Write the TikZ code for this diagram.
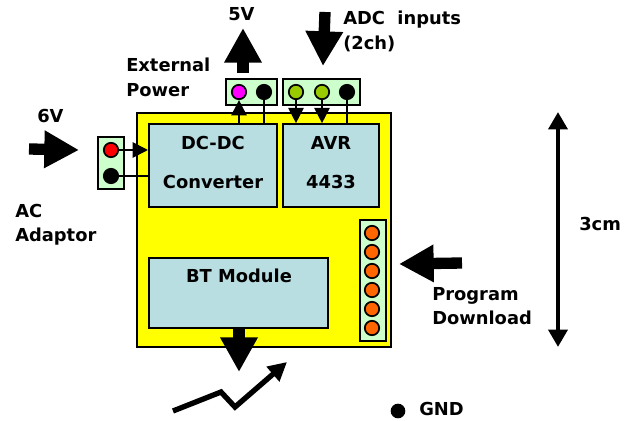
\documentclass[tikz,border=0pt]{standalone}
\usepackage{fontspec}
\setmainfont{DejaVu Sans}
\usetikzlibrary{arrows.meta, positioning, calc}
\definecolor{boardyellow}{HTML}{FFFF00}
\definecolor{blockblue}{HTML}{B8DEE2}
\definecolor{headgreen}{HTML}{CCFFCC}
\definecolor{pinolive}{HTML}{99CC00}
\definecolor{pinorange}{HTML}{FF6600}
\definecolor{pinmagenta}{HTML}{FF00FF}
\definecolor{pinred}{HTML}{FF0000}

\begin{document}
\begin{tikzpicture}[x=0.75pt, y=-0.75pt,
  board/.style={draw=black, line width=1.5pt, fill=boardyellow, inner sep=0pt},
  block/.style={draw=black, line width=1.5pt, fill=blockblue, inner sep=0pt},
  header/.style={draw=black, line width=1.3pt, fill=headgreen, inner sep=0pt},
  pin/.style={circle, draw=black, line width=1.3pt, minimum size=10.8pt, inner sep=0pt},
  label/.style={font=\fontsize{13.4pt}{18pt}\selectfont\bfseries, inner sep=0pt},
  blocktext/.style={font=\fontsize{13.4pt}{18pt}\selectfont\bfseries, inner sep=0pt},
  wire/.style={line width=1.4pt},
  wiretip/.style={line width=1.4pt, -{Triangle[length=11.5pt, width=11.5pt]}},
  bigarrow/.style={line width=8.5pt, -{Triangle[length=26pt, width=26.5pt]}},
  sizearrow/.style={line width=3.4pt, {Triangle[length=13pt, width=14pt]}-{Triangle[length=13pt, width=14pt]}},
]
  \useasboundingbox (0,0) rectangle (629,421);

  % board and blocks
  \node[board, minimum width=190pt, minimum height=176pt] (pcb) at (264,230) {};
  \node[block, minimum width=96pt, minimum height=62pt] (dcdc) at (213,165.5) {};
  \node[block, minimum width=72pt, minimum height=62pt] (avr) at (331,165.5) {};
  \node[block, minimum width=134pt, minimum height=52pt] (bt) at (238.5,293) {};
  \node[blocktext] at (213,143) {DC-DC};
  \node[blocktext] at (213,182) {Converter};
  \node[blocktext] at (331,143) {AVR};
  \node[blocktext] at (331,182) {4433};
  \node[blocktext] at (239,276) {BT Module};

  % headers
  \node[header, minimum width=38pt, minimum height=19.5pt] (exthead) at (251.5,92) {};
  \node[header, minimum width=58pt, minimum height=19.5pt] (adchead) at (321.5,92) {};
  \node[header, minimum width=19.5pt, minimum height=39pt] (achead) at (111,163) {};
  \node[header, minimum width=19.5pt, minimum height=91pt] (proghead) at (373,280.5) {};

  \node[pin, fill=pinmagenta] (extp) at (239,92) {};
  \node[pin, fill=black] (extg) at (264,92) {};
  \node[pin, fill=pinolive] (adca) at (296,92) {};
  \node[pin, fill=pinolive] (adcb) at (322,92) {};
  \node[pin, fill=black] (adcg) at (347,92) {};
  \node[pin, fill=pinred] (acp) at (111,150) {};
  \node[pin, fill=black] (acg) at (111,176) {};
  \foreach \y/\n in {233/1, 252/2, 271/3, 290/4, 309/5, 328/6}
    \node[pin, fill=pinorange] (prog\n) at (372,\y) {};

  % wires
  \draw[wiretip] (acp) -- (acp -| dcdc.west);
  \draw[wire] (acg) -- (acg -| dcdc.west);
  \draw[wiretip] (extp |- dcdc.north) -- (extp);
  \draw[wire] (extg |- dcdc.north) -- (extg);
  \draw[wiretip] (adca) -- (adca |- avr.north);
  \draw[wiretip] (adcb) -- (adcb |- avr.north);
  \draw[wire] (adcg) -- (adcg |- avr.north);

  % block arrows
  \coordinate (fivefrom) at (243,73);
  \coordinate (fiveto) at (243,28);
  \coordinate (adcfrom) at (325,12);
  \coordinate (adcto) at (323,66);
  \coordinate (sixfrom) at (29,149);
  \coordinate (sixto) at (79,150);
  \coordinate (progfrom) at (462,263);
  \coordinate (progto) at (399,264);
  \coordinate (btto) at (239,372);
  \draw[bigarrow] (fivefrom) -- (fiveto);
  \draw[bigarrow] (adcfrom) -- (adcto);
  \draw[bigarrow] (sixfrom) -- (sixto);
  \draw[bigarrow] (progfrom) -- (progto);
  \draw[bigarrow] (bt.south -| btto) -- (btto);

  % radio link
  \coordinate (linka) at (173,411);
  \coordinate (linkb) at (221,392);
  \coordinate (linkc) at (235,407);
  \coordinate (linkd) at (287,362);
  \draw[line width=4pt, -{Triangle[length=14pt, width=14pt]}] (linka) -- (linkb) -- (linkc) -- (linkd);

  % size
  \coordinate (sizetop) at (558,112);
  \coordinate (sizebot) at (558,347);
  \draw[sizearrow] (sizetop) -- (sizebot);

  % labels
  \node[label, anchor=west] at (228,14) {5V};
  \node[label, anchor=west] (adclabel) at (343,20) {ADC\ \ inputs};
  \node[label, anchor=west] at (343,44) {(2ch)};
  \node[label, anchor=west] at (126,65) {External};
  \node[label, anchor=west] at (126,90) {Power};
  \node[label, anchor=west] at (37,116) {6V};
  \node[label, anchor=west] at (15,211) {AC};
  \node[label, anchor=west] at (15,237) {Adaptor};
  \node[label, anchor=west] at (432,296) {Program};
  \node[label, anchor=west] at (432,318) {Download};
  \node[label, anchor=west] at (579,224) {3cm};
  \node[circle, fill=black, minimum size=11pt, inner sep=0pt] (gnddot) at (398,411) {};
  \node[label, anchor=west] at (419,409) {GND};
\end{tikzpicture}
\end{document}
